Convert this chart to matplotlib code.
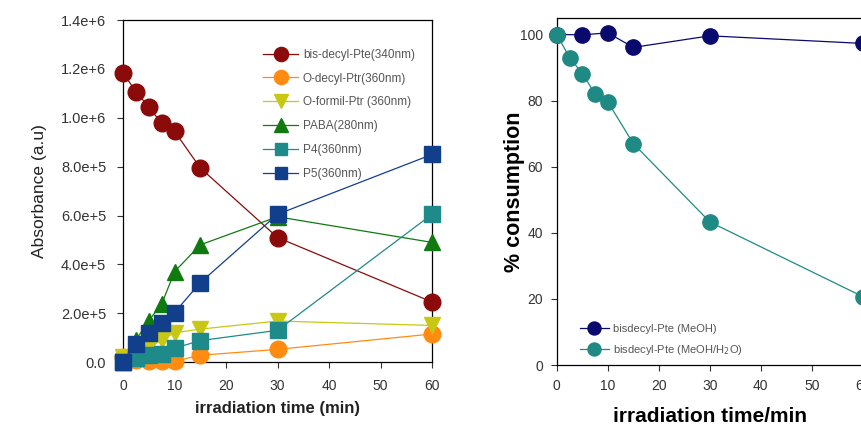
import numpy as np
import matplotlib
matplotlib.use("Agg")
import matplotlib.pyplot as plt

plt.rcParams["font.family"] = ["Liberation Sans", "DejaVu Sans"]

# ---- left panel data: absorbance vs irradiation time ----
t_left = [0, 2.5, 5, 7.5, 10, 15, 30, 60]
bis_decyl = [1.185e6, 1.107e6, 1.045e6, 0.977e6, 0.945e6, 0.795e6, 0.51e6, 0.246e6]
o_decyl = [0.02e6, 0.01e6, 0.005e6, 0.005e6, 0.004e6, 0.028e6, 0.052e6, 0.115e6]
o_formil = [0.02e6, 0.04e6, 0.06e6, 0.09e6, 0.12e6, 0.135e6, 0.168e6, 0.15e6]
paba = [0.0, 0.09e6, 0.17e6, 0.237e6, 0.37e6, 0.48e6, 0.595e6, 0.49e6]
p4 = [0.0, 0.015e6, 0.028e6, 0.035e6, 0.057e6, 0.088e6, 0.13e6, 0.605e6]
p5 = [0.0, 0.075e6, 0.12e6, 0.162e6, 0.203e6, 0.325e6, 0.605e6, 0.85e6]

left_series = [
    ("bis-decyl-Pte(340nm)", bis_decyl, "#8b0a0a", "o", 12),
    ("O-decyl-Ptr(360nm)", o_decyl, "#ff8c10", "o", 12),
    ("O-formil-Ptr (360nm)", o_formil, "#c8c814", "v", 12),
    ("PABA(280nm)", paba, "#107a10", "^", 12),
    ("P4(360nm)", p4, "#1f8a8a", "s", 11),
    ("P5(360nm)", p5, "#123f8c", "s", 11),
]
left_yticks = [0, 2e5, 4e5, 6e5, 8e5, 1e6, 1.2e6, 1.4e6]
left_yticklabels = ["0.0", "2.0e+5", "4.0e+5", "6.0e+5", "8.0e+5", "1.0e+6", "1.2e+6", "1.4e+6"]

# ---- right panel data: % consumption ----
t_meoh = [0, 5, 10, 15, 30, 60]
meoh = [100, 99.9, 100.5, 96.1, 99.6, 97.3]
t_water = [0, 2.5, 5, 7.5, 10, 15, 30, 60]
meoh_water = [100, 93.0, 88.2, 82.0, 79.6, 67.0, 43.3, 20.7]

fig = plt.figure(figsize=(8.62, 4.28), dpi=100)

# left panel
ax1 = fig.add_axes([0.1427, 0.154, 0.3585, 0.799])
for label, vals, col, mk, ms in left_series:
    ax1.plot(t_left, vals, color=col, marker=mk, markersize=ms, lw=0.9,
             markeredgecolor=col, label=label, clip_on=False, zorder=3)
ax1.set_xlim(0, 60)
ax1.set_ylim(0, 1.4e6)
ax1.set_xticks(range(0, 61, 10))
ax1.set_yticks(left_yticks)
ax1.set_yticklabels(left_yticklabels)
ax1.tick_params(axis="x", labelsize=10, colors="#333333", length=4, width=0.8, pad=8)
ax1.tick_params(axis="y", labelsize=10.5, colors="#333333", length=4, width=0.8, pad=8)
ax1.set_ylabel("Absorbance (a.u)", fontsize=12.5, color="#222222", labelpad=10)
ax1.set_xlabel("irradiation time (min)", fontsize=12, fontweight="bold",
               color="#222222", labelpad=6)
ax1.legend(loc="upper right", fontsize=8.5, frameon=False, handlelength=3.0,
           labelcolor="#555555", markerscale=0.85, borderaxespad=0,
           labelspacing=1.0, handletextpad=0.4, bbox_to_anchor=(0.96, 0.93))

# right panel (cut off at the figure edge like the reference)
ax2 = fig.add_axes([0.646, 0.147, 0.355, 0.811])
ax2.plot(t_meoh, meoh, color="#0a0a6e", marker="o", markersize=11, lw=0.9,
         label="bisdecyl-Pte (MeOH)", clip_on=False, zorder=3)
ax2.plot(t_water, meoh_water, color="#1f8a84", marker="o", markersize=11, lw=0.9,
         label="bisdecyl-Pte (MeOH/H$_2$O)", clip_on=False, zorder=4)
ax2.set_xlim(0, 60)
ax2.set_ylim(0, 105)
ax2.set_xticks(range(0, 61, 10))
ax2.set_yticks(range(0, 101, 20))
ax2.tick_params(labelsize=10, colors="#333333", length=4, width=0.8, pad=6)
ax2.set_ylabel("% consumption", fontsize=15.5, fontweight="bold")
ax2.yaxis.set_label_coords(-0.105, 0.5)
ax2.set_xlabel("irradiation time/min", fontsize=15, fontweight="bold", labelpad=10)
ax2.legend(loc="lower left", fontsize=8, frameon=False, handlelength=2.6,
           labelcolor="#555555", markerscale=0.85, borderaxespad=0,
           bbox_to_anchor=(0.06, 0.01), labelspacing=0.85, handletextpad=0.4)

for ax in (ax1, ax2):
    for sp in ax.spines.values():
        sp.set_linewidth(0.9)

fig.savefig("out.png", dpi=100)
